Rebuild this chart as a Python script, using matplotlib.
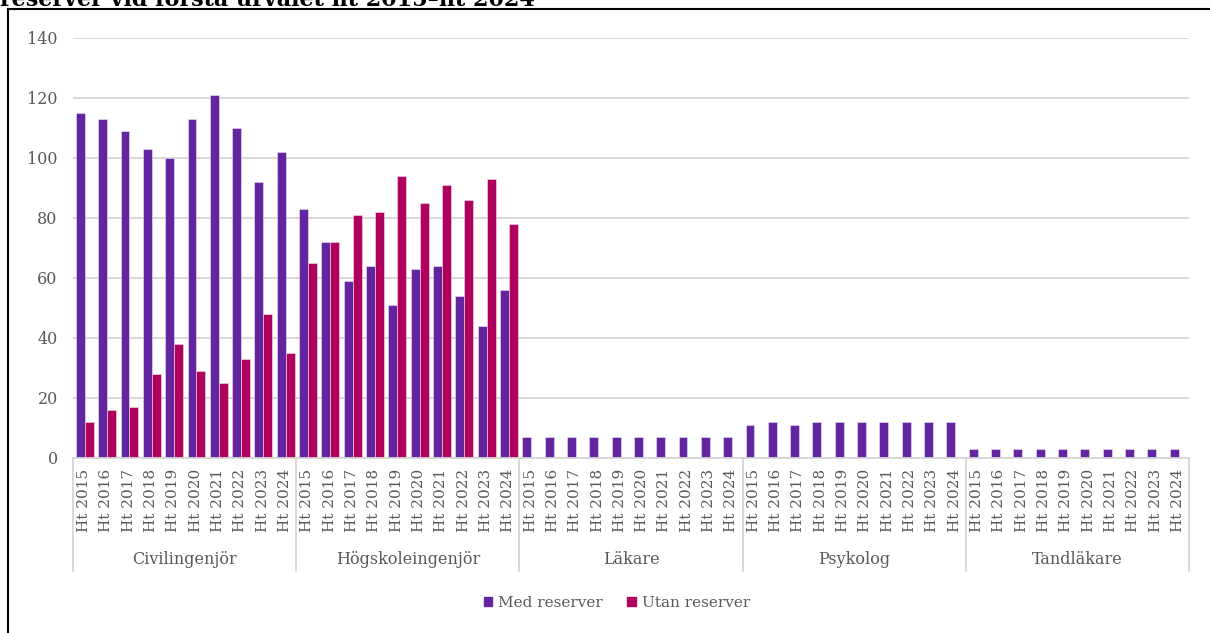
import matplotlib
matplotlib.use("Agg")
import matplotlib.pyplot as plt
from matplotlib.lines import Line2D
from matplotlib.patches import Patch
import numpy as np

# data
GROUPS = ["Civilingenjör", "Högskoleingenjör", "Läkare", "Psykolog", "Tandläkare"]
TERMS = ["Ht 2015", "Ht 2016", "Ht 2017", "Ht 2018", "Ht 2019",
         "Ht 2020", "Ht 2021", "Ht 2022", "Ht 2023", "Ht 2024"]

civ_med = [115, 113, 109, 103, 100, 113, 121, 110, 92, 102]
civ_utan = [12, 16, 17, 28, 38, 29, 25, 33, 48, 35]
hog_med = [83, 72, 59, 64, 51, 63, 64, 54, 44, 56]
hog_utan = [65, 72, 81, 82, 94, 85, 91, 86, 93, 78]
lak_med = [7, 7, 7, 7, 7, 7, 7, 7, 7, 7]
psy_med = [11, 12, 11, 12, 12, 12, 12, 12, 12, 12]
tan_med = [3, 3, 3, 3, 3, 3, 3, 3, 3, 3]

MED_COLOR = "#62259F"
UTAN_COLOR = "#B0005E"
GRID_COLOR = "#D6D6D6"
TEXT_COLOR = "#595959"

plt.rcParams['font.family'] = ['DejaVu Serif']

med = civ_med + hog_med + lak_med + psy_med + tan_med
utan = civ_utan + hog_utan  # the other groups have no "utan" values
n = len(med)
x = np.arange(n)
labels = TERMS * len(GROUPS)

W, H = 1210, 633
fig = plt.figure(figsize=(W / 100, H / 100), dpi=100)
ax = fig.add_axes([73 / W, 1 - 458 / H, (1189 - 73) / W, (458 - 38) / H])

bw = 0.40
ax.bar(x - bw / 2 + 0.03, med, width=bw, color=MED_COLOR, edgecolor="#EDE6F5",
       linewidth=0.4, label="Med reserver", zorder=3)
ax.bar(np.arange(len(utan)) + bw / 2 + 0.03, utan, width=bw, color=UTAN_COLOR,
       edgecolor="#F5E0EA", linewidth=0.4, label="Utan reserver", zorder=3)

ax.set_xlim(-0.5, n - 0.5)
ax.set_ylim(0, 140)
ax.set_yticks(range(0, 141, 20))
ax.yaxis.grid(True, color=GRID_COLOR, linewidth=1.3, zorder=0)
ax.tick_params(axis='y', length=0, labelsize=11.5, labelcolor=TEXT_COLOR, pad=11)
ax.set_xticks(x)
ax.set_xticklabels(labels, rotation=90, fontsize=11, color=TEXT_COLOR)
ax.tick_params(axis='x', length=0, pad=8)

for s in ["top", "right", "left"]:
    ax.spines[s].set_visible(False)
ax.spines["bottom"].set_color(GRID_COLOR)
ax.spines["bottom"].set_linewidth(1.3)
ax.spines["bottom"].set_zorder(4)

# multi-level category axis: separators and group names
sep_bottom = -(571 - 458) / (458 - 38)
for i in range(len(GROUPS) + 1):
    xs = i / len(GROUPS)
    ax.add_line(Line2D([xs, xs], [0, sep_bottom], transform=ax.transAxes,
                       color=GRID_COLOR, linewidth=1.3, clip_on=False))
for i, g in enumerate(GROUPS):
    ax.text((i + 0.5) / len(GROUPS), -(559 - 458) / (458 - 38), g,
            transform=ax.transAxes, ha='center', va='center',
            fontsize=11.5, color=TEXT_COLOR)

handles = [Patch(color=MED_COLOR, label="Med reserver"),
           Patch(color=UTAN_COLOR, label="Utan reserver")]
fig.legend(handles=handles, loc='center', bbox_to_anchor=(617 / W, 1 - 603 / H),
           ncol=2, frameon=False, fontsize=11, labelcolor=TEXT_COLOR,
           handlelength=0.55, handleheight=0.55, handletextpad=0.4, columnspacing=1.6)

# title cut off at the top edge, as in the source, and the frame around the chart
fig.text(0.0, 1 - 6 / H, "reserver vid första urvalet ht 2015–ht 2024",
         fontsize=16, fontweight='bold', va='baseline', ha='left')
fig.add_artist(Line2D([8 / W, 8 / W], [0, 1 - 9 / H], color='black', linewidth=1.5))
fig.add_artist(Line2D([8 / W, 1], [1 - 9 / H, 1 - 9 / H], color='black', linewidth=1.5))

plt.savefig("out.png", dpi=100)
plt.close('all')
